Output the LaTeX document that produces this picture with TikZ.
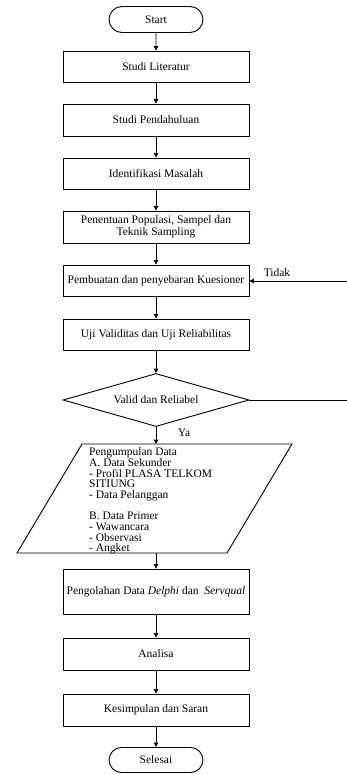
\documentclass[tikz,border=0pt]{standalone}
\usepackage{fontspec}
\setmainfont{Liberation Serif}
\usetikzlibrary{shapes.geometric,shapes.misc,arrows.meta}
\begin{document}
\begin{tikzpicture}[x=1pt,y=-1pt,
  txt/.style={font=\fontsize{11.5}{11.7}\selectfont},
  box/.style={txt,draw,line width=0.9pt,minimum width=186pt,inner sep=0pt,align=center},
  term/.style={txt,draw,line width=0.9pt,rounded rectangle,minimum width=94pt,minimum height=26pt,inner sep=0pt},
  dec/.style={txt,draw,line width=0.9pt,diamond,aspect=3.5,minimum width=186pt,minimum height=53pt,inner sep=0pt},
  arr/.style={-{Triangle[length=4.5pt,width=4.5pt]},line width=0.9pt},
  link/.style={line width=0.9pt}
]
\useasboundingbox (0,0) rectangle (347,774);

\node[term] (start) at (156,19.5) {Start};
\node[box,minimum height=31pt] (lit) at (156,66.5) {Studi Literatur};
\node[box,minimum height=32pt] (pend) at (156,120) {Studi Pendahuluan};
\node[box,minimum height=31pt] (iden) at (156,173.5) {Identifikasi Masalah};
\node[box,minimum height=32pt] (pen) at (156,227) {Penentuan Populasi, Sampel dan\\Teknik Sampling};
\node[box,minimum height=31pt] (pemb) at (156,280.5) {Pembuatan dan penyebaran Kuesioner};
\node[box,minimum height=31pt] (uji) at (156,334.5) {Uji Validitas dan Uji Reliabilitas};
\node[dec] (dec) at (156,400) {Valid dan Reliabel};

\coordinate (p1) at (82,444);
\coordinate (p2) at (292,444);
\coordinate (p3) at (227,553);
\coordinate (p4) at (17,553);
\coordinate (ptop) at (156,444);
\coordinate (pbot) at (156,553);
\draw[link] (p1) -- (p2) -- (p3) -- (p4) -- cycle;
\node[txt,anchor=north west,inner sep=0pt,align=left,font=\fontsize{11.5}{10.7}\selectfont] (data) at (89,447.5)
 {Pengumpulan Data\\A. Data Sekunder\\- Profil PLASA TELKOM\\SITIUNG\\- Data Pelanggan\\[10.7pt]B. Data Primer\\- Wawancara\\- Observasi\\- Angket};

\node[box,minimum height=45pt] (peng) at (156,591.5) {Pengolahan Data \textit{Delphi} dan~ \textit{Servqual}};
\node[box,minimum height=32pt] (ana) at (156,654) {Analisa};
\node[box,minimum height=32pt] (kes) at (156,710) {Kesimpulan dan Saran};
\node[term,minimum height=25pt] (sel) at (156,760) {Selesai};

\draw[arr] (start) -- (lit);
\draw[arr] (lit) -- (pend);
\draw[arr] (pend) -- (iden);
\draw[arr] (iden) -- (pen);
\draw[arr] (pen) -- (pemb);
\draw[arr] (pemb) -- (uji);
\draw[arr] (uji) -- (dec);
\draw[arr] (dec) -- (ptop);
\draw[arr] (pbot) -- (peng);
\draw[arr] (peng) -- (ana);
\draw[arr] (ana) -- (kes);
\draw[arr] (kes) -- (sel);

\coordinate (fbin) at (347,281);
\coordinate (fbout) at (347,400);
\draw[link] (dec.east) -- (fbout);
\draw[arr] (fbin) -- (pemb.east |- fbin);
\node[txt] (tidak) at (277,273) {Tidak};
\node[txt] (ya) at (184,433) {Ya};
\end{tikzpicture}
\end{document}
